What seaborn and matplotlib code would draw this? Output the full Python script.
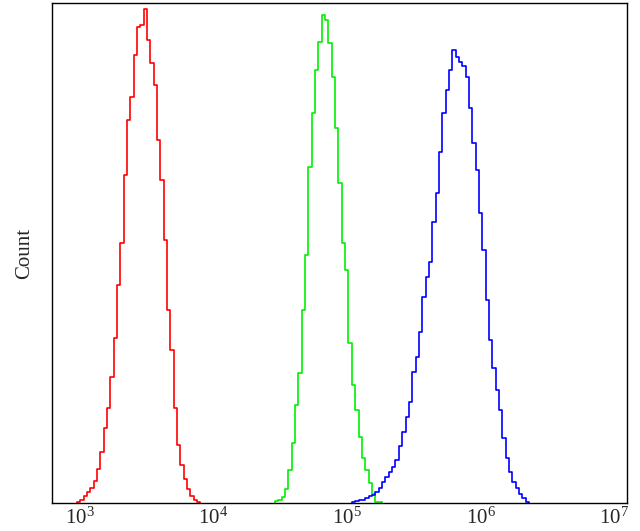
import numpy as np
import pandas as pd
import matplotlib
matplotlib.use('Agg')
import matplotlib.pyplot as plt
import seaborn as sns
from matplotlib.ticker import FixedLocator, LogFormatterMathtext, NullLocator

# Style (fonts set after seaborn, which resets font.family)
sns.set_style('white')
plt.rcParams['font.family'] = ['Liberation Serif', 'DejaVu Serif']
plt.rcParams['mathtext.fontset'] = 'custom'
plt.rcParams['mathtext.rm'] = 'Liberation Serif'

# Histogram channels: width in decades, first edge (log10) per sample
bin_width = 0.025
red_start = 2.9775
green_start = 4.4607
blue_start = 5.0375

# Counts per channel
red_counts = [1, 3, 7, 11, 15, 22, 34, 51, 75, 95, 126, 165, 218, 260, 328, 383, 406,
              448, 476, 478, 494, 463, 440, 418, 363, 323, 263, 193, 153, 95, 58, 38,
              24, 14, 7, 3, 1]
green_counts = [2, 3, 6, 14, 33, 60, 98, 130, 193, 248, 336, 390, 433, 461, 488, 483,
                460, 426, 375, 320, 260, 233, 160, 118, 93, 66, 45, 33, 20, 9, 1, 1]
blue_counts = [1, 2, 3, 3, 5, 7, 8, 11, 15, 21, 26, 31, 36, 43, 57, 71, 86, 101, 131,
               146, 171, 206, 226, 241, 281, 310, 351, 390, 413, 433, 453, 446, 441,
               437, 426, 395, 360, 333, 290, 253, 203, 163, 135, 113, 93, 65, 45, 31,
               21, 15, 9, 5, 1]

tick_values = [1e3, 1e4, 1e5, 1e6, 1e7]


def step_frame(start, counts):
    edges = start + bin_width * np.arange(len(counts) + 1)
    x = np.concatenate([[edges[0]], edges])
    y = np.concatenate([[0], counts, [0]])
    return pd.DataFrame({'fluorescence': 10 ** x, 'count': y})


fig = plt.figure(figsize=(6.4, 5.31), dpi=100)
ax = fig.add_axes([0.081, 0.0527, 0.899, 0.9416])
ax.set_xscale('log')

for start, counts, color in [(red_start, red_counts, '#ff0000'),
                             (green_start, green_counts, '#00f000'),
                             (blue_start, blue_counts, '#0000ff')]:
    sns.lineplot(data=step_frame(start, counts), x='fluorescence', y='count',
                 color=color, linewidth=1.2, drawstyle='steps-post',
                 estimator=None, sort=False, ax=ax)

ax.set_xlim(10 ** 2.79, 10 ** 7.097)
ax.set_ylim(0, 500)
ax.xaxis.set_major_locator(FixedLocator(tick_values))
ax.xaxis.set_major_formatter(LogFormatterMathtext())
ax.xaxis.set_minor_locator(NullLocator())
ax.set_yticks([])
ax.tick_params(axis='x', length=0, labelsize=15, pad=3)
ax.set_xlabel('')
ax.set_ylabel('Count', fontsize=15, labelpad=13)

for spine in ax.spines.values():
    spine.set_color('black')
    spine.set_linewidth(1.0)

fig.savefig('out.png', dpi=100)
